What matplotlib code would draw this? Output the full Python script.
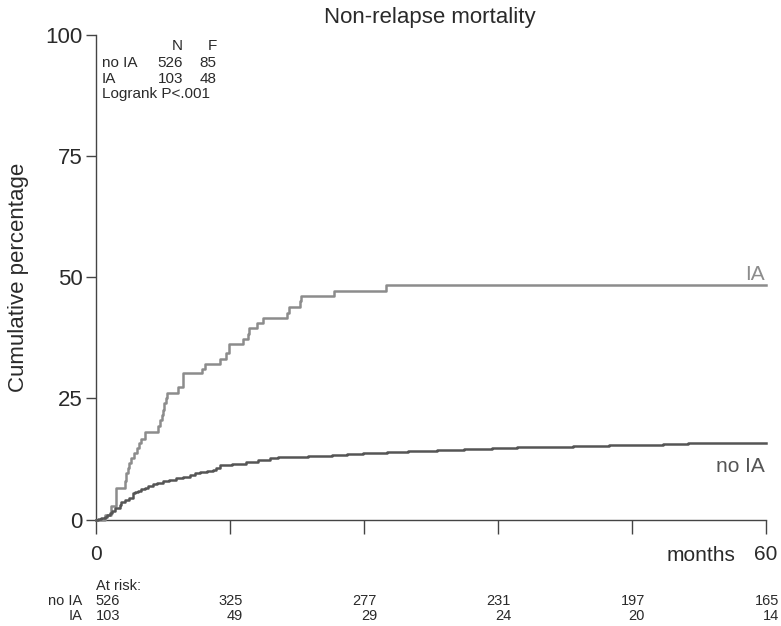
import matplotlib
matplotlib.use("Agg")
import matplotlib.pyplot as plt
import matplotlib.transforms as mtransforms

plt.rcParams['font.family'] = ['Liberation Sans', 'DejaVu Sans']

# ---- data ----
ia_months = [0, 0.8, 1.4, 1.85, 2.6, 2.75, 2.9, 3.0, 3.2, 3.45, 3.7, 3.9, 4.1, 4.4,
             5.6, 5.75, 5.9, 6.0, 6.15, 6.3, 6.4, 7.4, 7.8, 9.5, 9.8, 11.1, 11.7,
             11.9, 13.2, 13.6, 13.7, 14.4, 15.0, 17.1, 17.3, 18.3, 18.4, 21.3, 26.0, 60]
ia_cum = [0, 0.9, 2.8, 6.6, 8.0, 9.5, 10.6, 11.6, 12.7, 13.7, 14.7, 15.7, 16.7, 18.1,
          19.3, 20.5, 21.6, 22.7, 24.0, 25.1, 26.2, 27.3, 30.2, 31.0, 32.1, 33.1, 34.4,
          36.2, 37.2, 38.3, 39.5, 40.5, 41.5, 42.7, 43.9, 45.1, 46.1, 47.2, 48.5, 48.5]

noia_months = [0, 0.2, 0.5, 0.8, 1.0, 1.25, 1.5, 1.7, 2.2, 2.3, 2.6, 3.0, 3.3, 3.55,
               3.8, 4.1, 4.4, 4.7, 5.1, 5.5, 6.0, 6.6, 7.2, 7.8, 8.4, 8.9, 9.3, 10.0,
               10.5, 10.8, 11.1, 12.2, 13.5, 14.5, 15.6, 16.3, 17.1, 19.0, 21.2, 22.5,
               23.9, 26.1, 28.0, 30.6, 33.0, 35.5, 37.7, 40.0, 42.7, 46.0, 50.8, 53.0, 60]
noia_cum = [0, 0.2, 0.4, 0.6, 0.9, 1.3, 1.8, 2.4, 3.0, 3.7, 4.0, 4.4, 5.4, 5.7,
            5.9, 6.2, 6.6, 7.0, 7.4, 7.6, 7.9, 8.2, 8.5, 8.8, 9.2, 9.6, 9.9, 10.0,
            10.2, 10.7, 11.2, 11.5, 11.9, 12.2, 12.6, 12.8, 13.0, 13.1, 13.3, 13.5,
            13.7, 14.0, 14.1, 14.3, 14.5, 14.7, 14.9, 15.0, 15.2, 15.3, 15.5, 15.8, 15.8]

risk_months = [0, 12, 24, 36, 48, 60]
risk_noia = [526, 325, 277, 231, 197, 165]
risk_ia = [103, 49, 29, 24, 20, 14]

legend_rows = [("no IA", 526, 85), ("IA", 103, 48)]
yticks = [0, 25, 50, 75, 100]
xticks = [0, 12, 24, 36, 48, 60]
xticklabels = ['0', '', '', '', '', '60']

# ---- figure ----
W, H = 781, 626
fig = plt.figure(figsize=(W / 100, H / 100), dpi=100)

def fx(px):
    return px / W

def fy(py):
    return 1 - py / H

x0, x60, y0, y100 = 95.7, 765.7, 519.5, 35.0
ax = fig.add_axes([fx(x0), fy(y0), fx(x60) - fx(x0), fy(y100) - fy(y0)])

ink = '#2a2a2a'
col_ia = '#8c8c8c'
col_noia = '#555555'

ax.step(ia_months, ia_cum, where='post', color=col_ia, lw=1.8, clip_on=False, zorder=3)
ax.step(noia_months, noia_cum, where='post', color=col_noia, lw=1.8, clip_on=False, zorder=4)

ax.set_xlim(0, 60)
ax.set_ylim(0, 100)
for s in ['top', 'right']:
    ax.spines[s].set_visible(False)
for s in ['left', 'bottom']:
    ax.spines[s].set_color('#444444')
    ax.spines[s].set_linewidth(1.0)

ax.set_yticks(yticks)
ax.set_yticklabels([str(v) for v in yticks])
ax.set_xticks(xticks)
ax.set_xticklabels(xticklabels)
ax.tick_params(axis='y', length=7, width=1.0, pad=2.4, labelsize=16,
               color='#444444', labelcolor=ink)
ax.tick_params(axis='x', length=10, width=1.0, pad=8, labelsize=15,
               color='#444444', labelcolor=ink)

ax.set_ylabel('Cumulative percentage', fontsize=16, color=ink, labelpad=12)

# title
fig.text(fx(430), fy(23), 'Non-relapse mortality', fontsize=16, color=ink,
         ha='center', va='baseline')

# months label
fig.text(fx(735), fy(561), 'months', fontsize=15, color=ink, ha='right', va='baseline')

# curve labels
fig.text(fx(765), fy(280), 'IA', fontsize=15, color=col_ia, ha='right', va='baseline')
fig.text(fx(765), fy(472), 'no IA', fontsize=15, color=col_noia, ha='right', va='baseline')

# N / F table
fs_tab = 11
fig.text(fx(183), fy(50), 'N', fontsize=fs_tab, color=ink, ha='right', va='baseline')
fig.text(fx(216.5), fy(50), 'F', fontsize=fs_tab, color=ink, ha='right', va='baseline')
for i, (name, n, f) in enumerate(legend_rows):
    by = 67 + 16 * i
    fig.text(fx(101.7), fy(by), name, fontsize=fs_tab, color=ink, ha='left', va='baseline')
    fig.text(fx(183), fy(by), str(n), fontsize=fs_tab, color=ink, ha='right', va='baseline')
    fig.text(fx(216.5), fy(by), str(f), fontsize=fs_tab, color=ink, ha='right', va='baseline')
fig.text(fx(101.7), fy(98), 'Logrank P<.001', fontsize=fs_tab, color=ink,
         ha='left', va='baseline')

# at-risk table
trans = mtransforms.blended_transform_factory(ax.transData, fig.transFigure)
fs_r = 10.5
fig.text(fx(95.5), fy(590), 'At risk:', fontsize=fs_r, color=ink, ha='left', va='baseline')
fig.text(fx(82), fy(605), 'no IA', fontsize=fs_r, color=ink, ha='right', va='baseline')
fig.text(fx(82), fy(620), 'IA', fontsize=fs_r, color=ink, ha='right', va='baseline')
for i, (m, a, b) in enumerate(zip(risk_months, risk_noia, risk_ia)):
    if i == 0:
        xp, ha = m, 'left'
    else:
        xp, ha = m + 1.2, 'right'
    ax.text(xp, fy(605), str(a), fontsize=fs_r, color=ink, ha=ha, va='baseline',
            transform=trans, clip_on=False)
    ax.text(xp, fy(620), str(b), fontsize=fs_r, color=ink, ha=ha, va='baseline',
            transform=trans, clip_on=False)

fig.savefig('out.png', dpi=100)
